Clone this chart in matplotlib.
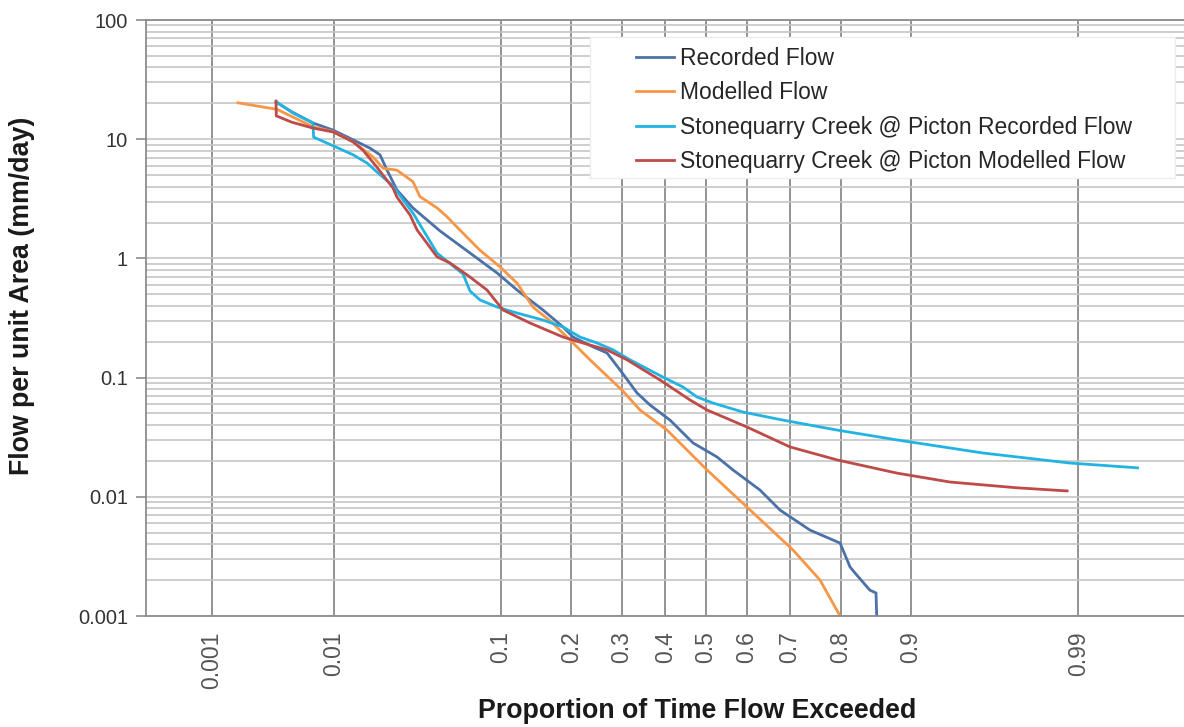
import math
import numpy as np
import matplotlib
matplotlib.use('Agg')
import matplotlib.pyplot as plt
from matplotlib.patches import Rectangle
from matplotlib.ticker import LogLocator, NullFormatter, NullLocator

plt.rcParams['font.family'] = ['Liberation Sans', 'DejaVu Sans']

# Dane: prawdopodobieństwo przekroczenia i przepływ (mm/day)
rec_p = [0.0036, 0.0048, 0.0070, 0.0099, 0.0130, 0.0179, 0.0208, 0.0231, 0.0267, 0.0335,
         0.0482, 0.0701, 0.0958, 0.1188, 0.1541, 0.1857, 0.2030, 0.2401, 0.268, 0.2955,
         0.3332, 0.3632, 0.411, 0.4677, 0.5274, 0.567, 0.632, 0.678, 0.742, 0.799,
         0.816, 0.824, 0.847, 0.856, 0.857]
rec_q = [20.5, 17.0, 13.7, 11.9, 10.2, 8.4, 7.4, 5.5, 3.75, 2.65,
         1.70, 1.11, 0.755, 0.543, 0.369, 0.266, 0.219, 0.181, 0.161, 0.116,
         0.0743, 0.0589, 0.044, 0.0283, 0.0216, 0.0168, 0.0114, 0.00775, 0.00526, 0.00409,
         0.00258, 0.0023, 0.00165, 0.00156, 0.001]

mod_p = [0.00172, 0.00367, 0.00703, 0.00988, 0.0137, 0.0187, 0.0218, 0.0267, 0.0335, 0.0369,
         0.0464, 0.0527, 0.062, 0.0789, 0.0989, 0.1188, 0.1398, 0.1648, 0.1977, 0.2342,
         0.302, 0.340, 0.4037, 0.5025, 0.601, 0.7067, 0.762, 0.799]
mod_q = [20.2, 17.8, 12.7, 11.6, 9.5, 7.1, 5.7, 5.5, 4.4, 3.3,
         2.65, 2.24, 1.73, 1.17, 0.85, 0.62, 0.39, 0.30, 0.207, 0.141,
         0.077, 0.0535, 0.0363, 0.0168, 0.0082, 0.00358, 0.0020, 0.001]

sqr_p = [0.0037, 0.0049, 0.0070, 0.0071, 0.0099, 0.0137, 0.0171, 0.0199, 0.0252, 0.0335,
         0.0464, 0.0644, 0.0701, 0.0789, 0.0958, 0.1188, 0.1541, 0.1857, 0.2155, 0.248,
         0.2806, 0.3174, 0.394, 0.4428, 0.4777, 0.5175, 0.5914, 0.6848, 0.7936, 0.8837,
         0.9583, 0.9885, 0.9965]
sqr_q = [20.3, 16.6, 13.7, 10.4, 8.8, 7.4, 6.3, 5.3, 4.05, 2.40,
         1.11, 0.74, 0.533, 0.448, 0.391, 0.348, 0.304, 0.266, 0.219, 0.195,
         0.171, 0.141, 0.101, 0.0834, 0.0687, 0.0612, 0.0514, 0.044, 0.0363, 0.030,
         0.0233, 0.0192, 0.0175]

sqm_p = [0.0036, 0.00362, 0.0048, 0.0070, 0.0099, 0.0137, 0.0160, 0.0199, 0.0252, 0.0267,
         0.0322, 0.0355, 0.0464, 0.0548, 0.0701, 0.0855, 0.1023, 0.1357, 0.1857, 0.221,
         0.268, 0.3107, 0.3869, 0.4602, 0.5025, 0.601, 0.7002, 0.7936, 0.8837, 0.9364,
         0.974, 0.988]
sqm_q = [20.9, 15.7, 13.9, 12.4, 11.5, 9.5, 8.1, 5.8, 3.9, 3.27,
         2.31, 1.73, 1.03, 0.915, 0.698, 0.543, 0.369, 0.287, 0.219, 0.195,
         0.171, 0.141, 0.0955, 0.0649, 0.0535, 0.0385, 0.0262, 0.0204, 0.0158, 0.0133,
         0.0119, 0.0112]

x_ticks = [0.001, 0.01, 0.1, 0.2, 0.3, 0.4, 0.5, 0.6, 0.7, 0.8, 0.9, 0.99]
x_labels = ['0.001', '0.01', '0.1', '0.2', '0.3', '0.4', '0.5', '0.6', '0.7', '0.8', '0.9', '0.99']
y_ticks = [0.001, 0.01, 0.1, 1, 10, 100]
y_labels = ['0.001', '0.01', '0.1', '1', '10', '100']


# Skala prawdopodobieństwa (odwrotność rozkładu normalnego, przybliżenie Acklama)
def probit(p):
    p = np.asarray(p, dtype=float)
    shape = p.shape
    p = np.clip(np.atleast_1d(p).ravel(), 1e-12, 1 - 1e-12)
    a = [-3.969683028665376e+01, 2.209460984245205e+02, -2.759285104469687e+02,
         1.383577518672690e+02, -3.066479806614716e+01, 2.506628277459239e+00]
    b = [-5.447609879822406e+01, 1.615858368580409e+02, -1.556989798598866e+02,
         6.680131188771972e+01, -1.328068155288572e+01]
    c = [-7.784894002430293e-03, -3.223964580411365e-01, -2.400758277161838e+00,
         -2.549732539343734e+00, 4.374664141464968e+00, 2.938163982698783e+00]
    d = [7.784695709041462e-03, 3.224671290700398e-01, 2.445134137142996e+00,
         3.754408661907416e+00]
    out = np.full_like(p, np.nan)
    lo = p < 0.02425
    hi = p > 1 - 0.02425
    mid = ~(lo | hi) & ~np.isnan(p)

    def tail(q):
        return (((((c[0]*q + c[1])*q + c[2])*q + c[3])*q + c[4])*q + c[5]) / \
               ((((d[0]*q + d[1])*q + d[2])*q + d[3])*q + 1)

    out[lo] = tail(np.sqrt(-2 * np.log(p[lo])))
    out[hi] = -tail(np.sqrt(-2 * np.log(1 - p[hi])))
    q = p[mid] - 0.5
    r = q * q
    out[mid] = (((((a[0]*r + a[1])*r + a[2])*r + a[3])*r + a[4])*r + a[5]) * q / \
               (((((b[0]*r + b[1])*r + b[2])*r + b[3])*r + b[4])*r + 1)
    return out.reshape(shape)


_erf = np.vectorize(math.erf)


def norm_cdf(z):
    z = np.asarray(z, dtype=float)
    return 0.5 * (1 + _erf(z / math.sqrt(2)))


fig = plt.figure(figsize=(11.84, 7.27), dpi=100)
ax = fig.add_axes([146 / 1184, 111 / 727, 1038 / 1184, 596 / 727])

ax.set_xscale('function', functions=(probit, norm_cdf))
ax.set_yscale('log')

ax.plot(rec_p, rec_q, color='#4a72a8', lw=2.0, label='Recorded Flow')
ax.plot(mod_p, mod_q, color='#f79646', lw=2.0, label='Modelled Flow')
ax.plot(sqr_p, sqr_q, color='#23b3e3', lw=2.0, label='Stonequarry Creek @ Picton Recorded Flow')
ax.plot(sqm_p, sqm_q, color='#be4b48', lw=2.0, label='Stonequarry Creek @ Picton Modelled Flow')

ax.set_xlim(norm_cdf(-3.5), norm_cdf(2.9875))
ax.set_ylim(0.001, 100)

ax.set_xticks(x_ticks, x_labels)
ax.xaxis.set_minor_locator(NullLocator())
ax.set_yticks(y_ticks, y_labels)
ax.yaxis.set_minor_locator(LogLocator(base=10, subs=np.arange(2, 10)))
ax.yaxis.set_minor_formatter(NullFormatter())

ax.tick_params(axis='x', which='major', length=0, pad=11, labelsize=16.5,
               labelcolor='#555555', labelrotation=90)
ax.tick_params(axis='y', which='major', length=7, width=1.2, color='#8c8c8c',
               direction='out', pad=6, labelsize=14.5, labelcolor='#333333')
ax.tick_params(axis='y', which='minor', length=0)

ax.grid(axis='x', which='major', color='#8a8a8a', lw=1.3)
ax.grid(axis='y', which='both', color='#c6c6c6', lw=1.2)
ax.set_axisbelow(True)

for side in ['left', 'bottom', 'top']:
    ax.spines[side].set_color('#8c8c8c')
    ax.spines[side].set_linewidth(1.3)
ax.spines['right'].set_visible(False)

ax.set_xlabel('Proportion of Time Flow Exceeded', fontsize=19.3, fontweight='bold',
              color='#1a1a1a')
ax.xaxis.label.set_va('center')
ax.xaxis.set_label_coords(0.531, -0.1594)
ax.set_ylabel('Flow per unit Area (mm/day)', fontsize=19.3, fontweight='bold',
              color='#1a1a1a')
ax.yaxis.label.set_va('center')
ax.yaxis.set_label_coords(-0.1195, 0.537)

# Tło legendy
ax.add_patch(Rectangle((0.4277, 0.7349), 0.5636, 0.2366, transform=ax.transAxes,
                       facecolor='white', edgecolor='#ececec', lw=1, zorder=4.5))
ax.legend(loc='upper left', bbox_to_anchor=(0.472, 0.9547), frameon=False,
          borderpad=0, borderaxespad=0, fontsize=16.5, handlelength=1.65,
          handletextpad=0.27, labelspacing=0.5, labelcolor='#262626')

fig.savefig('out.png', dpi=100)
